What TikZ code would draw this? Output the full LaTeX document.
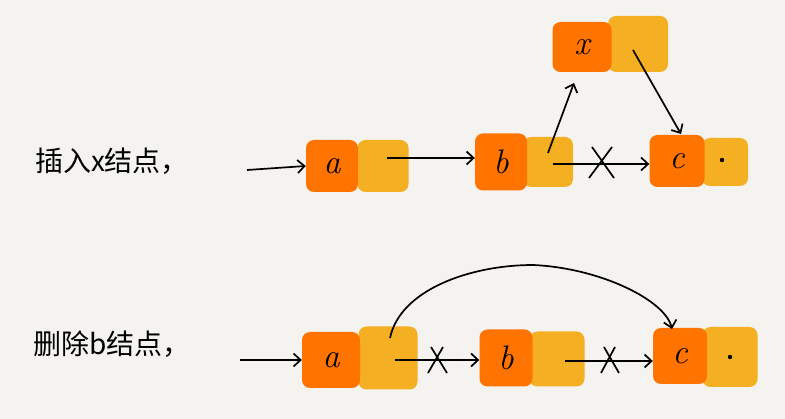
\documentclass[tikz,border=0pt]{standalone}
\usepackage{fontspec}
\newfontfamily\cjk{Noto Sans CJK SC}
\usetikzlibrary{arrows.meta}
\definecolor{bgc}{HTML}{F4F3EF}
\definecolor{nodeor}{HTML}{FF7300}
\definecolor{nodeye}{HTML}{F5AF22}
\begin{document}
\begin{tikzpicture}[x=1pt,y=-1pt,
  orbox/.style={fill=nodeor, rounded corners=8pt, inner sep=0pt, font=\fontsize{34}{36}\selectfont\itshape},
  yebox/.style={fill=nodeye, rounded corners=8pt, inner sep=0pt},
  link/.style={line width=1.7pt, -{Straight Barb[length=7pt,width=13pt,line width=1.7pt]}},
  cross/.style={line width=1.7pt},
  nildot/.style={fill=black},
  lbl/.style={font=\cjk\fontsize{28}{30}\selectfont, inner sep=0pt}]
\fill[bgc] (0,0) rectangle (785,419);
\useasboundingbox (0,0) rectangle (785,419);

% ---------- top row: insert x ----------
\node[lbl] (lbl1) at (112,161) {插入x结点，};

\node[yebox, minimum width=51pt, minimum height=52pt] (a1y) at (383,166) {};
\node[orbox, minimum width=52pt, minimum height=52pt] (a1o) at (332,166) {a};

\node[yebox, minimum width=50pt, minimum height=50pt] (b1y) at (548,162) {};
\node[orbox, minimum width=52pt, minimum height=57pt] (b1o) at (501,162) {b};

\node[yebox, minimum width=60pt, minimum height=56pt] (x1y) at (638,44) {};
\node[orbox, minimum width=59pt, minimum height=50pt] (x1o) at (582,47) {x};

\node[yebox, minimum width=46pt, minimum height=48pt] (c1y) at (725,162) {};
\node[orbox, minimum width=55pt, minimum height=52pt] (c1o) at (677,161) {c};
\fill[nildot] ([xshift=-3pt,yshift=2pt]c1y.center) circle (2.2pt);

\coordinate (in1) at (247,170);
\coordinate (a1s) at (387,158);
\coordinate (b1s) at (553,164);
\coordinate (b1u) at (548,153);
\coordinate (x1t) at (574,83);
\coordinate (x1s) at (633,50);
\coordinate (c1t) at (681,134);

\draw[link] (in1) -- (a1o.west);
\draw[link] (a1s) -- (a1s -| b1o.west);
\draw[link] (b1s) -- (b1s -| c1o.west);
\draw[link] (b1u) -- (x1t);
\draw[link] (x1s) -- (c1t);
\draw[cross] (592,147) -- (614,178) (612,147) -- (589,178);

% ---------- bottom row: delete b ----------
\node[lbl] (lbl2) at (112,344) {删除b结点，};

\node[yebox, minimum width=59pt, minimum height=63pt] (a2y) at (388,358) {};
\node[orbox, minimum width=58pt, minimum height=56pt] (a2o) at (331,360) {a};

\node[yebox, minimum width=55pt, minimum height=55pt] (b2y) at (557,359) {};
\node[orbox, minimum width=53pt, minimum height=57pt] (b2o) at (506,358) {b};

\node[yebox, minimum width=55pt, minimum height=60pt] (c2y) at (730,357) {};
\node[orbox, minimum width=54pt, minimum height=56pt] (c2o) at (680,356) {c};
\fill[nildot] (c2y.center) circle (2.2pt);

\coordinate (in2) at (240,360);
\coordinate (a2s) at (395,360);
\coordinate (a2u) at (390,338);
\coordinate (b2s) at (565,361);
\coordinate (c2t) at (672,329);

\draw[link] (in2) -- (in2 -| a2o.west);
\draw[link] (a2s) -- (a2s -| b2o.west);
\draw[link] (b2s) -- (b2s -| c2o.west);
\draw[link] (a2u) .. controls (400,290) and (470,265) .. (533,265)
                   .. controls (600,268) and (665,300) .. (c2t);
\draw[cross] (431,347) -- (447,373) (443,347) -- (428,373);
\draw[cross] (604,347) -- (619,373) (615,347) -- (601,373);
\end{tikzpicture}
\end{document}
